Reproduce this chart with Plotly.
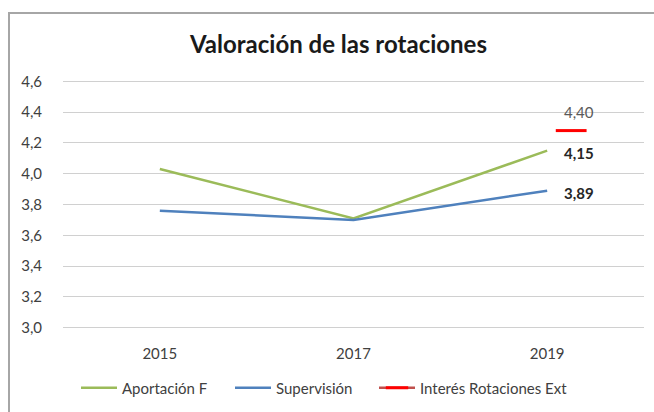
import plotly.graph_objects as go

years = ["2015", "2017", "2019"]
aportacion = [4.03, 3.71, 4.15]
supervision = [3.76, 3.70, 3.89]
interes = [None, None, 4.28]
interes_label = [None, None, 4.40]
y_ticks = [3.0, 3.2, 3.4, 3.6, 3.8, 4.0, 4.2, 4.4, 4.6]
y_ticktext = [f"{v:.1f}".replace(".", ",") for v in y_ticks]

GREEN = "#9BBB59"
BLUE = "#4F81BD"
RED_LEG = "#C0504D"
FONT = "Lato, 'Open Sans', sans-serif"

fig = go.Figure()
fig.add_trace(go.Scatter(x=years, y=aportacion, name="Aportación F", mode="lines",
                         legend="legend",
                         line=dict(color=GREEN, width=2.5)))
fig.add_trace(go.Scatter(x=years, y=supervision, name="Supervisión", mode="lines",
                         legend="legend2",
                         line=dict(color=BLUE, width=2.5)))
fig.add_trace(go.Scatter(x=years, y=interes, name="Interés Rotaciones Ext", mode="lines+markers",
                         xaxis="x2", legend="legend3",
                         line=dict(color=RED_LEG, width=2.5),
                         marker=dict(symbol="line-ew", size=22, color="#FF0000",
                                     line=dict(color="#FF0000", width=3))))

last = len(years) - 1
annotations = []
annotations.append(dict(x=last, y=aportacion[last], text=f"<b>{aportacion[last]:.2f}</b>".replace(".", ","),
                        showarrow=False, xanchor="left", xshift=15, yshift=-2,
                        font=dict(family=FONT, size=15, color="#262626")))
annotations.append(dict(x=last, y=supervision[last], text=f"<b>{supervision[last]:.2f}</b>".replace(".", ","),
                        showarrow=False, xanchor="left", xshift=15, yshift=-2,
                        font=dict(family=FONT, size=15, color="#262626")))
annotations.append(dict(x=last, y=interes[last], text=f"{interes_label[last]:.2f}".replace(".", ","),
                        showarrow=False, xanchor="left", xshift=15, yshift=19,
                        font=dict(family=FONT, size=15, color="#595959")))

def leg(xpx):
    return dict(orientation="h", xref="container", yref="container",
                x=xpx / 654, xanchor="left", y=(412 - 388) / 412, yanchor="middle",
                font=dict(family=FONT, size=15, color="#404040"), itemwidth=36,
                bgcolor="rgba(0,0,0,0)")

fig.update_layout(
    width=654, height=412,
    margin=dict(l=63, r=10, t=79, b=82, autoexpand=False),
    paper_bgcolor="white", plot_bgcolor="white",
    title=dict(text="<b>Valoración de las rotaciones</b>", x=338.5 / 654, xanchor="center",
               y=1 - 45 / 412, yanchor="middle",
               font=dict(family=FONT, size=24, color="#1a1a1a")),
    xaxis=dict(type="category", range=[-0.5, 2.5], showgrid=False, zeroline=False,
               showline=False, ticks="", ticklabelstandoff=13, automargin=False,
               tickfont=dict(family=FONT, size=15, color="#404040")),
    xaxis2=dict(type="category", overlaying="x", range=[-0.624, 2.376], visible=False),
    yaxis=dict(range=[2.985, 4.615], tickvals=y_ticks, ticktext=y_ticktext,
               showgrid=True, gridcolor="#D0D0D0", gridwidth=1, zeroline=False,
               showline=False, ticks="", ticklabelstandoff=20, automargin=False,
               tickfont=dict(family=FONT, size=15, color="#404040")),
    legend=leg(76),
    legend2=leg(230),
    legend3=leg(374),
    annotations=annotations,
    shapes=[dict(type="rect", xref="paper", yref="paper",
                 x0=-(63 - 9) / 581, x1=1.2, y0=-0.5, y1=1 + (79 - 13) / 251,
                 line=dict(color="#A6A6A6", width=2), fillcolor="rgba(0,0,0,0)", layer="below")],
    showlegend=True,
)

fig.write_html("out.html", config={"displayModeBar": False},
               post_script="document.body.style.margin='0';")
